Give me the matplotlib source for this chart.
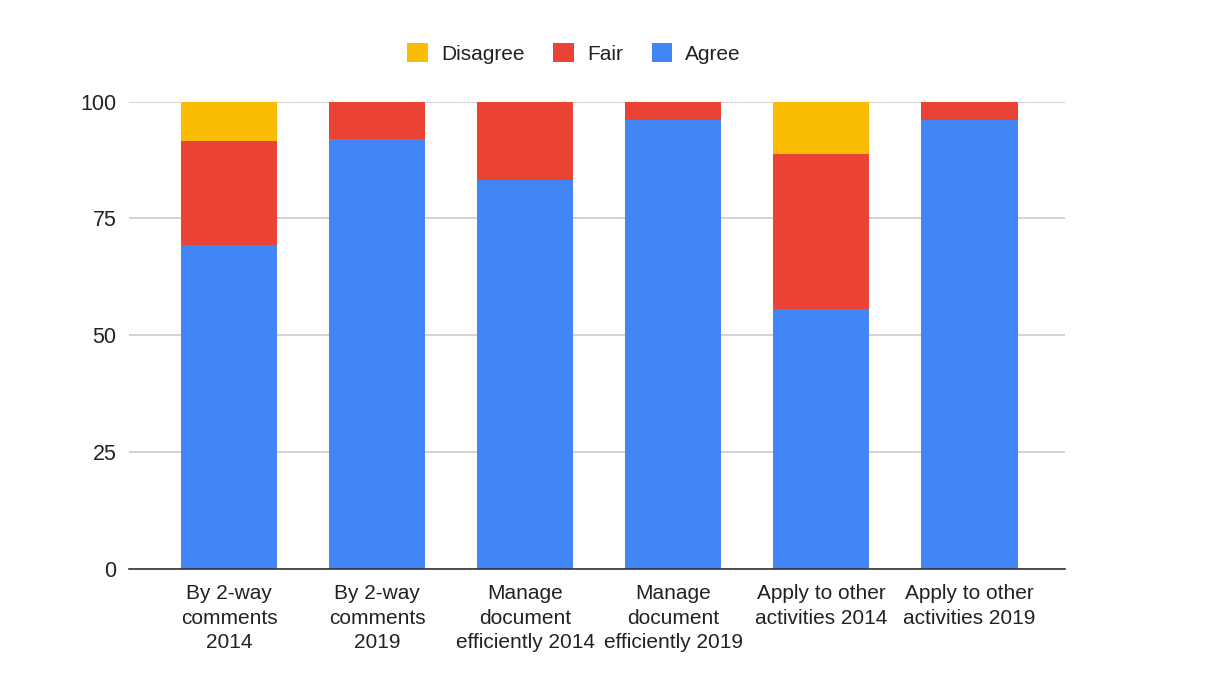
import matplotlib
matplotlib.use("Agg")
import matplotlib.pyplot as plt
import numpy as np

categories = [
    "By 2-way\ncomments\n2014",
    "By 2-way\ncomments\n2019",
    "Manage\ndocument\nefficiently 2014",
    "Manage\ndocument\nefficiently 2019",
    "Apply to other\nactivities 2014",
    "Apply to other\nactivities 2019",
]
agree = [69.4, 92.0, 83.3, 96.0, 55.6, 96.0]
fair = [22.2, 8.0, 16.7, 4.0, 33.3, 4.0]
disagree = [8.4, 0.0, 0.0, 0.0, 11.1, 0.0]

series_names = ["Disagree", "Fair", "Agree"]
colors = {"Agree": "#4285F4", "Fair": "#EA4335", "Disagree": "#FBBC04"}

plt.rcParams["font.family"] = ["Liberation Sans", "DejaVu Sans"]

fig = plt.figure(figsize=(12.06, 6.85), dpi=100)
ax = fig.add_axes([0.107, 0.170, 0.776, 0.6815])

x = np.arange(len(categories))
width = 0.65
agree_a = np.array(agree)
fair_a = np.array(fair)
dis_a = np.array(disagree)

h_agree = ax.bar(x, agree_a, width, color=colors["Agree"], zorder=3, label="Agree")
h_fair = ax.bar(x, fair_a, width, bottom=agree_a, color=colors["Fair"], zorder=3, label="Fair")
h_dis = ax.bar(x, dis_a, width, bottom=agree_a + fair_a, color=colors["Disagree"], zorder=3, label="Disagree")

ax.set_xlim(-0.675, 5.645)
ax.set_ylim(0, 100)
ax.set_yticks([0, 25, 50, 75, 100])
ax.set_xticks(x)
ax.set_xticklabels(categories, fontsize=15, color="#222222", linespacing=1.38)
ax.tick_params(axis="y", labelsize=15.5, labelcolor="#222222", length=0, pad=9)
ax.tick_params(axis="x", length=0, pad=11)

ax.yaxis.grid(True, color="#cccccc", linewidth=1.2, zorder=0)
ax.set_axisbelow(True)
for side in ["top", "right", "left"]:
    ax.spines[side].set_visible(False)
ax.spines["bottom"].set_color("#333333")
ax.spines["bottom"].set_linewidth(1.2)
ax.spines["bottom"].set_zorder(4)

leg = fig.legend(
    [h_dis, h_fair, h_agree], series_names,
    loc="center", bbox_to_anchor=(0.476, 0.922), ncol=3, frameon=False,
    fontsize=15, handlelength=1.0, handleheight=1.0, handletextpad=0.62,
    columnspacing=1.38, labelcolor="#222222",
)

fig.savefig("out.png", dpi=100, facecolor="white")
